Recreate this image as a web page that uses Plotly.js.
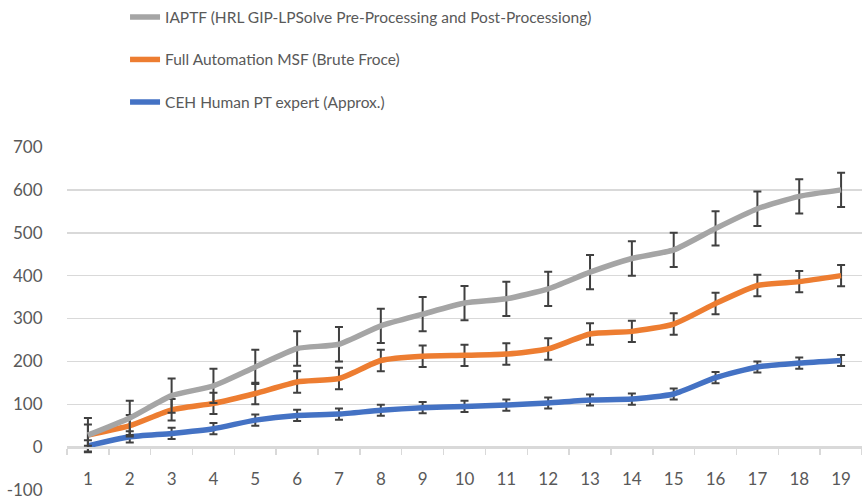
<!DOCTYPE html>
<html>
<head>
<meta charset="utf-8">
<script src="https://cdn.plot.ly/plotly-3.0.1.min.js"></script>
<style>
  html, body { margin: 0; padding: 0; background: #fff; }
  #chart { width: 862px; height: 504px; }
</style>
</head>
<body>
<div id="chart"></div>
<script>
// Categories (x axis)
const categories = ["1","2","3","4","5","6","7","8","9","10","11","12","13","14","15","16","17","18","19"];

// Series values
const iaptfValues = [28, 68, 120, 143, 187, 230, 240, 283, 310, 336, 346, 369, 408, 440, 460, 510, 556, 585, 600];
const msfValues   = [28, 50, 87, 102, 125, 152, 160, 202, 212, 214, 217, 229, 264, 270, 287, 335, 377, 386, 400];
const cehValues   = [3, 24, 32, 43, 63, 74, 77, 86, 92, 95, 98, 103, 110, 112, 124, 162, 187, 196, 202];

// Error bar sizes (constant, +/-)
const iaptfError = 40;
const msfError = 25;
const cehError = 13;

// Series names
const seriesNames = [
  "IAPTF (HRL GIP-LPSolve Pre-Processing and Post-Processiong)",
  "Full Automation MSF (Brute Froce)",
  "CEH Human PT expert (Approx.)"
];

// Y tick values
const yTicks = [-100, 0, 100, 200, 300, 400, 500, 600, 700];

const FONT = "Lato, 'Open Sans', sans-serif";
const errStyle = (v) => ({type: 'constant', value: v, visible: true, color: '#404040', thickness: 2, width: 4});

const traces = [
  {
    x: categories, y: cehValues, name: seriesNames[2], type: 'scatter', mode: 'lines',
    line: {color: '#4472C4', width: 5.5, shape: 'spline', smoothing: 0.55},
    error_y: errStyle(cehError), legend: 'legend3'
  },
  {
    x: categories, y: msfValues, name: seriesNames[1], type: 'scatter', mode: 'lines',
    line: {color: '#ED7D31', width: 5.5, shape: 'spline', smoothing: 0.55},
    error_y: errStyle(msfError), legend: 'legend2'
  },
  {
    x: categories, y: iaptfValues, name: seriesNames[0], type: 'scatter', mode: 'lines',
    line: {color: '#A5A5A5', width: 5.5, shape: 'spline', smoothing: 0.55},
    error_y: errStyle(iaptfError), legend: 'legend'
  }
];

const legendBase = {
  xanchor: 'left', yanchor: 'middle', bgcolor: 'rgba(0,0,0,0)', borderwidth: 0,
  font: {family: FONT, size: 15.5, color: '#595959'}, itemwidth: 30
};

const layout = {
  width: 862, height: 504,
  margin: {l: 67, r: 0, t: 144, b: 14, pad: 0},
  paper_bgcolor: '#ffffff', plot_bgcolor: '#ffffff',
  font: {family: FONT, size: 16, color: '#595959'},
  showlegend: true,
  legend:  Object.assign({}, legendBase, {x: 0.073, y: 1.378}),
  legend2: Object.assign({}, legendBase, {x: 0.073, y: 1.254}),
  legend3: Object.assign({}, legendBase, {x: 0.073, y: 1.130}),
  xaxis: {
    type: 'category', range: [-0.5, 18.5], anchor: 'free', position: 0.125,
    showgrid: false, showline: true, linecolor: '#d9d9d9', linewidth: 1.5,
    ticks: 'outside', tickson: 'boundaries', ticklen: 6, tickcolor: '#d9d9d9', tickwidth: 1.5,
    tickfont: {family: FONT, size: 17, color: '#595959'},
    ticklabelstandoff: 16,
    zeroline: false, fixedrange: true
  },
  yaxis: {
    range: [-100, 700], tickvals: yTicks, ticktext: yTicks.map(String),
    showgrid: true, gridcolor: '#d9d9d9', gridwidth: 1.5,
    zeroline: false, showline: false,
    ticks: 'outside', ticklen: 20, tickcolor: 'rgba(0,0,0,0)',
    tickfont: {family: FONT, size: 17, color: '#595959'},
    fixedrange: true
  }
};

Plotly.newPlot('chart', traces, layout, {displayModeBar: false, staticPlot: true});
</script>
</body>
</html>
